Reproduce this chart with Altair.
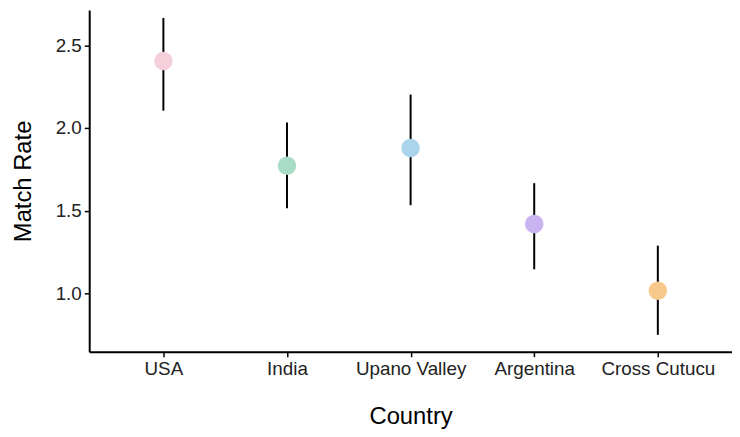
import altair as alt
import pandas as pd

countries = ["USA", "India", "Upano Valley", "Argentina", "Cross Cutucu"]
rates = [2.405, 1.772, 1.879, 1.421, 1.018]
lows = [2.105, 1.516, 1.534, 1.147, 0.751]
highs = [2.665, 2.034, 2.202, 1.667, 1.290]
colors = ["#F5CFD9", "#A9DCC7", "#AAD4EC", "#C9B3F0", "#F7C98B"]

df = pd.DataFrame({"Country": countries, "rate": rates, "lo": lows, "hi": highs})

x = alt.X("Country:N", sort=countries,
          scale=alt.Scale(type="point", padding=0.6),
          axis=alt.Axis(title="Country", labelAngle=0, tickSize=5, labelPadding=3,
                        titlePadding=26))
y_scale = alt.Scale(domain=[0.649, 2.7125], nice=False, zero=False)
y_axis = alt.Axis(title="Match Rate", values=[1.0, 1.5, 2.0, 2.5], format=".1f",
                  tickSize=5, labelPadding=3, titlePadding=20)

rules = alt.Chart(df).mark_rule(color="black", strokeWidth=2).encode(
    x=x,
    y=alt.Y("lo:Q", scale=y_scale, axis=y_axis),
    y2="hi:Q",
)
points = alt.Chart(df).mark_circle(size=350, opacity=1).encode(
    x=x,
    y=alt.Y("rate:Q", scale=y_scale, axis=y_axis),
    color=alt.Color("Country:N", scale=alt.Scale(domain=countries, range=colors), legend=None),
)

chart = (rules + points).properties(
    width=649, height=345,
    autosize=alt.AutoSizeParams(type="none"),
    padding={"left": 82, "top": 0, "right": 0, "bottom": 84},
).configure_view(stroke=None).configure_axis(
    grid=False,
    domainColor="black", domainWidth=2,
    tickColor="black", tickWidth=1.5,
    labelFont="Liberation Sans", labelFontSize=19, labelColor="#222",
    titleFont="Liberation Sans", titleFontSize=24, titleFontWeight="normal", titleColor="black",
)

chart.save("out.html", embed_options={"renderer": "svg", "actions": False})
